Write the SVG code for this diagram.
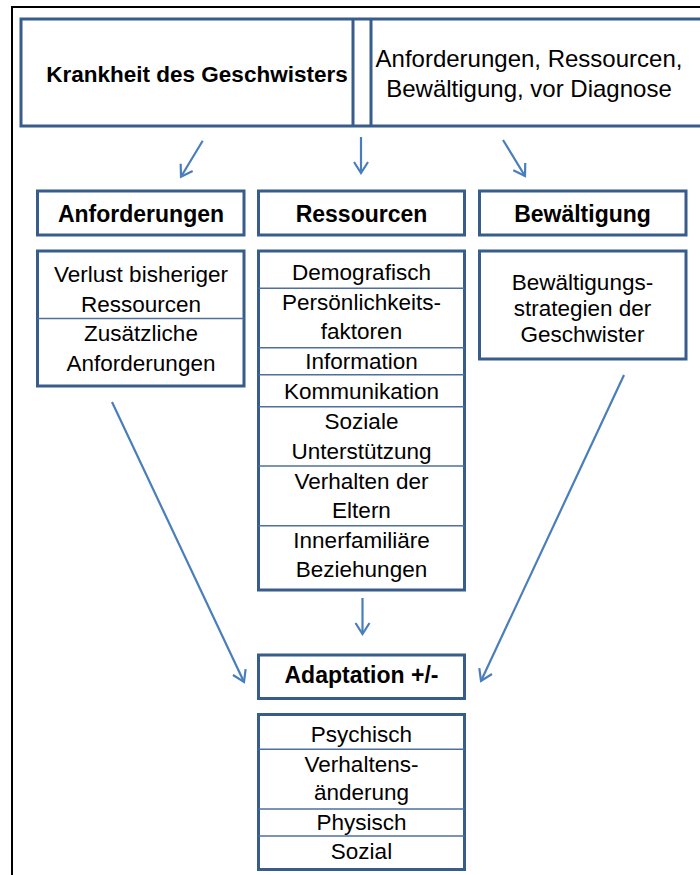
<svg xmlns="http://www.w3.org/2000/svg" width="700" height="875" viewBox="0 0 700 875">
<style>
.box{fill:#fff;stroke:#385d8a;stroke-width:3}
.div{stroke:#4f6f9c;stroke-width:1.4;fill:none}
.t{font-family:"Liberation Sans",Arial,sans-serif;font-size:22.5px;fill:#000;text-anchor:middle}
.b{font-family:"Liberation Sans",Arial,sans-serif;font-size:22.5px;font-weight:bold;fill:#000;text-anchor:middle}
.h{font-size:23px}
.top{font-size:24px}
.arr{stroke:#4a7ebb;stroke-width:2.2;fill:none;marker-end:url(#ah)}
</style>
<defs>
<marker id="ah" markerUnits="userSpaceOnUse" viewBox="-13 -9 15 18" refX="0" refY="0" markerWidth="15" markerHeight="18" orient="auto">
<path d="M-11,-7 L0,0 L-11,7" fill="none" stroke="#4a7ebb" stroke-width="2.2"/>
</marker>
</defs>
<rect x="0" y="0" width="700" height="875" fill="#fff"/>
<rect id="frame" x="12" y="7" width="700" height="880" fill="none" stroke="#000" stroke-width="2"/>
<g id="top">
<rect class="box" x="21" y="19" width="700" height="107"/>
<line class="box" x1="353" y1="19" x2="353" y2="126"/>
<line class="box" x1="371" y1="19" x2="371" y2="126"/>
<text class="b" x="197" y="82">Krankheit des Geschwisters</text>
<text class="t top" x="529" y="67">Anforderungen, Ressourcen,</text>
<text class="t top" x="529" y="97">Bewältigung, vor Diagnose</text>
</g>
<g id="h-anforderungen">
<rect class="box" x="37.5" y="191" width="206.5" height="44"/>
<text class="b h" x="141" y="222">Anforderungen</text>
</g>
<g id="h-ressourcen">
<rect class="box" x="258.5" y="191" width="206" height="44"/>
<text class="b h" x="361.5" y="222">Ressourcen</text>
</g>
<g id="h-bewaeltigung">
<rect class="box" x="479.5" y="191" width="206.5" height="44"/>
<text class="b h" x="582.5" y="222">Bewältigung</text>
</g>
<g id="d-anforderungen">
<rect class="box" x="37.5" y="251" width="206.5" height="135"/>
<line class="div" x1="37.5" y1="318.5" x2="244" y2="318.5"/>
<text class="t" x="141" y="282">Verlust bisheriger</text>
<text class="t" x="141" y="311.5">Ressourcen</text>
<text class="t" x="141" y="341">Zusätzliche</text>
<text class="t" x="141" y="370.5">Anforderungen</text>
</g>
<g id="d-ressourcen">
<rect class="box" x="258.5" y="251" width="206" height="339"/>
<line class="div" x1="258.5" y1="288.3" x2="464.5" y2="288.3"/>
<line class="div" x1="258.5" y1="347.8" x2="464.5" y2="347.8"/>
<line class="div" x1="258.5" y1="374.8" x2="464.5" y2="374.8"/>
<line class="div" x1="258.5" y1="406.7" x2="464.5" y2="406.7"/>
<line class="div" x1="258.5" y1="466" x2="464.5" y2="466"/>
<line class="div" x1="258.5" y1="525.7" x2="464.5" y2="525.7"/>
<text class="t" x="361.5" y="280">Demografisch</text>
<text class="t" x="361.5" y="310">Persönlichkeits-</text>
<text class="t" x="361.5" y="339">faktoren</text>
<text class="t" x="361.5" y="369">Information</text>
<text class="t" x="361.5" y="399">Kommunikation</text>
<text class="t" x="361.5" y="429">Soziale</text>
<text class="t" x="361.5" y="458.5">Unterstützung</text>
<text class="t" x="361.5" y="488.5">Verhalten der</text>
<text class="t" x="361.5" y="517.5">Eltern</text>
<text class="t" x="361.5" y="547.5">Innerfamiliäre</text>
<text class="t" x="361.5" y="577">Beziehungen</text>
</g>
<g id="d-bewaeltigung">
<rect class="box" x="479.5" y="251" width="206.5" height="108"/>
<text class="t" x="582.5" y="290">Bewältigungs-</text>
<text class="t" x="582.5" y="316">strategien der</text>
<text class="t" x="582.5" y="342">Geschwister</text>
</g>
<g id="adaptation">
<rect class="box" x="258.5" y="655" width="206" height="43.5"/>
<text class="b h" x="361.5" y="683">Adaptation +/-</text>
</g>
<g id="d-adaptation">
<rect class="box" x="258.5" y="714.5" width="206" height="155"/>
<line class="div" x1="258.5" y1="749.3" x2="464.5" y2="749.3"/>
<line class="div" x1="258.5" y1="809" x2="464.5" y2="809"/>
<line class="div" x1="258.5" y1="836" x2="464.5" y2="836"/>
<text class="t" x="361.5" y="741.5">Psychisch</text>
<text class="t" x="361.5" y="771.5">Verhaltens-</text>
<text class="t" x="361.5" y="800">änderung</text>
<text class="t" x="361.5" y="830">Physisch</text>
<text class="t" x="361.5" y="859">Sozial</text>
</g>
<g id="connectors">
<line class="arr" x1="202.7" y1="140.7" x2="181" y2="176.7"/>
<line class="arr" x1="361" y1="137" x2="361" y2="173"/>
<line class="arr" x1="503" y1="140" x2="525" y2="176"/>
<line class="arr" x1="112" y1="402" x2="244" y2="682"/>
<line class="arr" x1="362.5" y1="598" x2="362.5" y2="634"/>
<line class="arr" x1="624" y1="375" x2="481" y2="681"/>
</g>
</svg>
